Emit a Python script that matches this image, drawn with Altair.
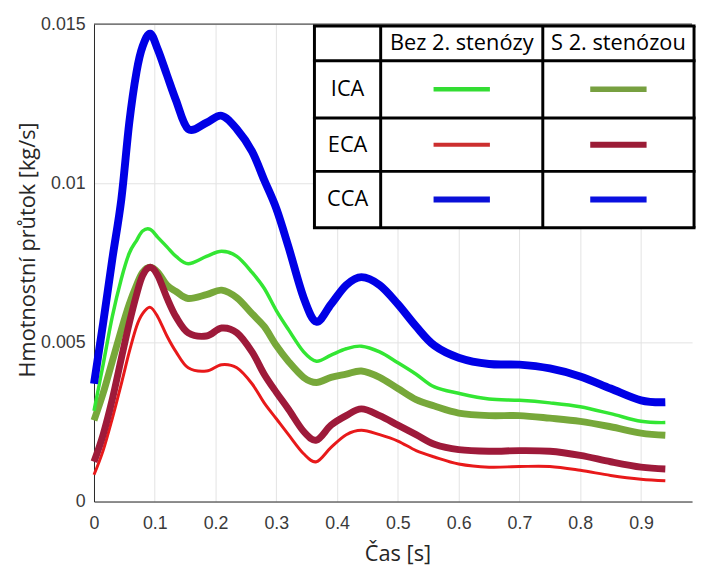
import altair as alt
import pandas as pd

# ---- data ----
t = [0.0, 0.015, 0.03, 0.045, 0.058, 0.07, 0.08, 0.0925, 0.105, 0.12, 0.135, 0.155, 0.185,
     0.21, 0.235, 0.26, 0.28, 0.30, 0.32, 0.345, 0.366, 0.39, 0.415, 0.44, 0.47, 0.50,
     0.53, 0.56, 0.60, 0.65, 0.70, 0.75, 0.80, 0.85, 0.90, 0.94]

cca = [0.0037, 0.0056, 0.0076, 0.0095, 0.0119, 0.0135, 0.0143, 0.0147, 0.0142, 0.0134,
       0.0126, 0.0117, 0.0119, 0.01212, 0.0117, 0.0110, 0.0101, 0.0092, 0.0080, 0.0064,
       0.00565, 0.0062, 0.0068, 0.00705, 0.0068, 0.0062, 0.0055, 0.0049, 0.00452, 0.00432,
       0.0043, 0.00418, 0.00393, 0.00355, 0.00318, 0.00312]
ica_bez = [0.00285, 0.0043, 0.0058, 0.0070, 0.0078, 0.0082, 0.0085, 0.00855, 0.0083, 0.0080,
           0.0077, 0.00747, 0.0077, 0.00786, 0.0077, 0.0072, 0.0067, 0.0060, 0.0054, 0.0047,
           0.00441, 0.0046, 0.0048, 0.00488, 0.0047, 0.00436, 0.0040, 0.0036, 0.0034,
           0.00322, 0.00318, 0.0031, 0.00298, 0.00276, 0.00252, 0.00248]
ica_s = [0.00255, 0.0034, 0.0044, 0.0054, 0.0062, 0.0068, 0.0072, 0.00736, 0.0072, 0.0068,
         0.0066, 0.00638, 0.0065, 0.00664, 0.0064, 0.0059, 0.0055, 0.0049, 0.0044, 0.0039,
         0.00374, 0.0039, 0.0040, 0.0041, 0.0039, 0.00355, 0.0032, 0.0030, 0.00278, 0.0027,
         0.0027, 0.00262, 0.00252, 0.00235, 0.00215, 0.00208]
eca_s = [0.00125, 0.0021, 0.0032, 0.0045, 0.0056, 0.0065, 0.0071, 0.00736, 0.0071, 0.0064,
         0.0058, 0.0053, 0.0052, 0.00545, 0.0053, 0.0047, 0.0040, 0.00343, 0.0029, 0.0022,
         0.00193, 0.0024, 0.0027, 0.00291, 0.0027, 0.0024, 0.0021, 0.0018, 0.00163, 0.00158,
         0.0016, 0.00158, 0.00145, 0.00125, 0.00108, 0.00102]
eca_bez = [0.00084, 0.0016, 0.0026, 0.0037, 0.0047, 0.0055, 0.0059, 0.0061, 0.0058, 0.0052,
           0.0047, 0.0042, 0.0041, 0.0043, 0.0042, 0.0037, 0.0031, 0.0026, 0.0021, 0.0015,
           0.00125, 0.0017, 0.0021, 0.00224, 0.0021, 0.0019, 0.0016, 0.0014, 0.00118,
           0.00108, 0.0011, 0.0011, 0.00098, 0.00082, 0.0007, 0.00065]

x_ticks = [0, 0.1, 0.2, 0.3, 0.4, 0.5, 0.6, 0.7, 0.8, 0.9]
y_ticks = [0, 0.005, 0.01, 0.015]

row_labels = ["ICA", "ECA", "CCA"]
col_labels = ["Bez 2. stenózy", "S 2. stenózou"]

# ---- layout ----
W, H = 605, 483
X_MAX = 0.984
LABEL_FONT = "Liberation Sans"
TEXT_FONT = "Open Sans"

x_scale = alt.Scale(domain=[0, X_MAX], nice=False, zero=False)
y_scale = alt.Scale(domain=[0, 0.015], nice=False)

x_axis = alt.Axis(values=x_ticks, format=".1~f", grid=True, gridColor="#e3e3e3",
                  ticks=False, labelPadding=13, labelFontSize=18, labelFont=LABEL_FONT,
                  labelFlush=False, labelColor="#3a3a3a", domainColor="#262626",
                  title="Čas [s]", titleFont=TEXT_FONT, titleFontSize=22,
                  titleFontWeight="normal", titleColor="#262626",
                  titleBaseline="alphabetic", titleY=60, titleX=307)
y_axis = alt.Axis(values=y_ticks, format=".3~f", grid=True, gridColor="#e3e3e3",
                  ticks=False, labelPadding=9, labelFontSize=18, labelFont=LABEL_FONT,
                  labelFlush=False, labelColor="#3a3a3a", domainColor="#262626",
                  title="Hmotnostní průtok [kg/s]", titleFont=TEXT_FONT, titleFontSize=22,
                  titleFontWeight="normal", titleColor="#262626", titleAngle=-90,
                  titleBaseline="alphabetic", titleX=-60, titleY=228, titleAlign="center")


def series_layer(vals, color, width):
    df = pd.DataFrame({"t": t, "v": vals})
    return alt.Chart(df).mark_line(color=color, strokeWidth=width, interpolate="cardinal",
                                   strokeCap="butt", strokeJoin="round").encode(
        x=alt.X("t:Q", scale=x_scale, axis=x_axis),
        y=alt.Y("v:Q", scale=y_scale, axis=y_axis))


layers = [
    series_layer(ica_s, "#77a83a", 7),
    series_layer(ica_bez, "#33e633", 3.5),
    series_layer(eca_bez, "#e8191a", 3),
    series_layer(eca_s, "#9e1a3a", 7),
    series_layer(cca, "#0000e6", 8),
]

base = alt.Chart(pd.DataFrame({"a": [0]}))

# top border of the axes box
layers.append(base.mark_rule(color="#262626", strokeWidth=1).encode(
    x=alt.value(0), x2=alt.value(W), y=alt.value(0)))

# ---- legend table ----
TL, TR = 223, 607
col_x = [TL, 290, 454, TR]
row_y = [2, 37, 95, 149, 206]

layers.append(base.mark_rect(color="white").encode(
    x=alt.value(TL), x2=alt.value(TR), y=alt.value(row_y[0]), y2=alt.value(row_y[-1])))

for yy in row_y:
    layers.append(base.mark_rule(color="black", strokeWidth=3).encode(
        x=alt.value(TL - 1.5), x2=alt.value(TR + 1.5), y=alt.value(yy)))
for xx in col_x:
    layers.append(base.mark_rule(color="black", strokeWidth=3).encode(
        x=alt.value(xx), y=alt.value(row_y[0]), y2=alt.value(row_y[-1])))

for i, lab in enumerate(col_labels):
    cx = (col_x[i + 1] + col_x[i + 2]) / 2
    layers.append(base.mark_text(text=lab, font=TEXT_FONT, fontSize=22, color="black",
                                 align="center", baseline="middle").encode(
        x=alt.value(cx), y=alt.value((row_y[0] + row_y[1]) / 2)))

for j, lab in enumerate(row_labels):
    cy = (row_y[j + 1] + row_y[j + 2]) / 2
    layers.append(base.mark_text(text=lab, font=TEXT_FONT, fontSize=22, color="black",
                                 align="center", baseline="middle").encode(
        x=alt.value((col_x[0] + col_x[1]) / 2), y=alt.value(cy)))

legend_colors = [["#33dd33", "#77a040"], ["#cc2f2f", "#9b1c36"], ["#0a10d8", "#0a10e0"]]
legend_widths = [[4.5, 5.5], [4, 6], [6, 6]]
seg = 57
for j in range(3):
    cy = (row_y[j + 1] + row_y[j + 2]) / 2
    for i in range(2):
        cx = (col_x[i + 1] + col_x[i + 2]) / 2
        layers.append(base.mark_rule(color=legend_colors[j][i],
                                     strokeWidth=legend_widths[j][i]).encode(
            x=alt.value(cx - seg / 2), x2=alt.value(cx + seg / 2), y=alt.value(cy)))

chart = alt.layer(*layers).properties(
    width=W, height=H,
    autosize=alt.AutoSizeParams(type="none"),
    padding={"left": 87, "top": 13, "right": 5, "bottom": 66},
    background="white",
).configure_view(stroke=None)

chart.save("out.html", embed_options={"renderer": "svg", "actions": False})
